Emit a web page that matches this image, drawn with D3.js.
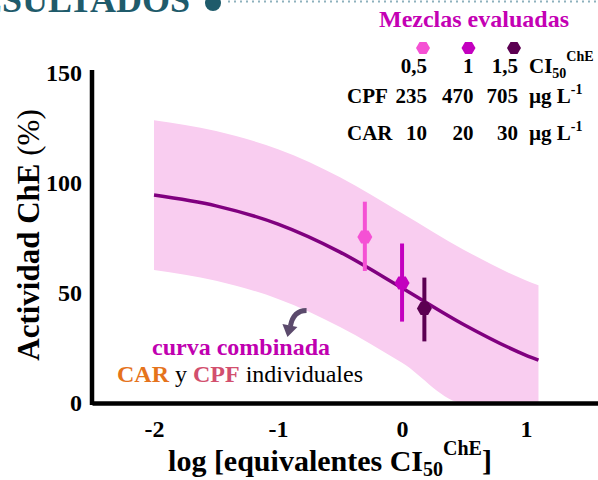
<!DOCTYPE html>
<html>
<head>
<meta charset="utf-8">
<script src="https://d3js.org/d3.v7.min.js"></script>
<style>
  body { margin: 0; background: #fff; }
  text { font-family: "Liberation Serif", "Times New Roman", serif; }
</style>
</head>
<body>
<div id="chart"></div>
<script>
// fitted curve
var curveX = [-2, -1.5, -1, -0.5, 0, 0.5, 1, 1.1];
var curveY = [94.5, 89.6, 81.3, 68.6, 52.3, 35.6, 21.7, 19.5];
var bandUpper = [128.5, 123.6, 115.3, 102.6, 86.3, 69.6, 55.7, 53.5];
var bandLower = [60.5, 55.6, 47.3, 34.6, 18.3, 0, 0, 0];

// evaluated mixtures
var mixLabels = ["0,5", "1", "1,5"];
var cpfDose = [235, 470, 705];
var carDose = [10, 20, 30];
var mixLogEq = [-0.30, 0, 0.18];
var mixMean = [75.5, 54.5, 43];
var mixLow = [60, 37, 28];
var mixHigh = [91.5, 72.5, 57];
var mixColors = ["#f551d4", "#c300bf", "#5c0052"];

var xTicks = [-2, -1, 0, 1];
var yTicks = [0, 50, 100, 150];

var width = 598, height = 480;

var svg = d3.select("#chart").append("svg")
  .attr("width", width)
  .attr("height", height);

var x = d3.scaleLinear().domain([-2.5, 1.58]).range([92, 598]);
var y = d3.scaleLinear().domain([0, 150]).range([403, 73]);

// header remains
svg.append("text")
  .attr("x", 190).attr("y", 12)
  .attr("text-anchor", "end")
  .attr("font-size", 36).attr("font-weight", "bold")
  .attr("fill", "#1f5b6b")
  .text("RESULTADOS");
svg.append("circle").attr("cx", 213).attr("cy", 3).attr("r", 8).attr("fill", "#1f5b6b");
svg.append("line")
  .attr("x1", 228).attr("x2", 598).attr("y1", 1.5).attr("y2", 1.5)
  .attr("stroke", "#8eb1bd").attr("stroke-width", 2)
  .attr("stroke-dasharray", "2,4");

var pts = curveX.map(function (d, i) {
  return { x: d, y: curveY[i], hi: bandUpper[i], lo: bandLower[i] };
});

// confidence band
var area = d3.area()
  .x(function (d) { return x(d.x); })
  .y0(function (d) { return y(d.lo); })
  .y1(function (d) { return y(d.hi); })
  .curve(d3.curveMonotoneX);

svg.append("path")
  .datum(pts)
  .attr("d", area)
  .attr("fill", "#f9cdf0");

var line = d3.line()
  .x(function (d) { return x(d.x); })
  .y(function (d) { return y(d.y); })
  .curve(d3.curveMonotoneX);

svg.append("path")
  .datum(pts)
  .attr("d", line)
  .attr("fill", "none")
  .attr("stroke", "#80007f")
  .attr("stroke-width", 3.5);

// axes
var fmt = function (d) { return String(d); };
var yAxis = svg.append("g")
  .attr("transform", "translate(" + x(-2.5) + ",0)")
  .call(d3.axisLeft(y).tickValues(yTicks).tickFormat(fmt).tickSize(0).tickPadding(10).tickSizeOuter(0));
var xAxis = svg.append("g")
  .attr("transform", "translate(0," + y(0) + ")")
  .call(d3.axisBottom(x).tickValues(xTicks).tickFormat(fmt).tickSize(0).tickPadding(17).tickSizeOuter(0));

[xAxis, yAxis].forEach(function (g) {
  g.select(".domain").attr("stroke", "#000").attr("stroke-width", 4.5);
  g.selectAll("text")
    .attr("font-size", 24)
    .attr("font-weight", "bold")
    .attr("fill", "#000");
});
yAxis.select(".domain").attr("d", "M0," + (y(0) + 2) + "V" + (y(150) - 3));
yAxis.selectAll("text").attr("dy", "0.33em");

// hexagon marker
function hexagon(r) {
  var p = d3.path();
  for (var k = 0; k < 6; k++) {
    var a = Math.PI / 3 * k;
    var px = r * Math.cos(a), py = r * Math.sin(a);
    if (k === 0) p.moveTo(px, py); else p.lineTo(px, py);
  }
  p.closePath();
  return p.toString();
}

var mix = mixLogEq.map(function (d, i) {
  return { x: d, m: mixMean[i], lo: mixLow[i], hi: mixHigh[i], c: mixColors[i] };
});

var mg = svg.append("g").selectAll("g").data(mix).enter().append("g");
mg.append("line")
  .attr("x1", function (d) { return x(d.x); })
  .attr("x2", function (d) { return x(d.x); })
  .attr("y1", function (d) { return y(d.lo); })
  .attr("y2", function (d) { return y(d.hi); })
  .attr("stroke", function (d) { return d.c; })
  .attr("stroke-width", 4);
mg.append("path")
  .attr("d", hexagon(7.5))
  .attr("transform", function (d) { return "translate(" + x(d.x) + "," + y(d.m) + ")"; })
  .attr("fill", function (d) { return d.c; });

// legend
var lg = svg.append("g").attr("font-weight", "bold").attr("font-size", 21).attr("fill", "#000");
lg.append("text")
  .attr("x", 474).attr("y", 27)
  .attr("text-anchor", "middle")
  .attr("font-size", 24)
  .attr("fill", "#c400b4")
  .text("Mezclas evaluadas");

var colX = d3.scalePoint().domain(mixLabels).range([423, 514]);

lg.selectAll(".lhex").data(mixLabels).enter().append("path")
  .attr("d", hexagon(7))
  .attr("transform", function (d) { return "translate(" + colX(d) + ",48)"; })
  .attr("fill", function (d, i) { return mixColors[i]; });

function legendRow(vals, yy, head) {
  lg.selectAll(null).data(vals).enter().append("text")
    .attr("x", function (d, i) { return colX(mixLabels[i]) + (i === 1 ? 5 : 4); })
    .attr("y", yy)
    .attr("text-anchor", "end")
    .text(function (d) { return d; });
  if (head) {
    lg.append("text").attr("x", 347).attr("y", yy).text(head);
  }
}
legendRow(mixLabels, 73, null);
legendRow(cpfDose, 103, "CPF");
legendRow(carDose, 140, "CAR");

var ci = lg.append("text").attr("x", 529).attr("y", 73);
ci.append("tspan").text("CI");
ci.append("tspan").attr("font-size", 14).attr("dy", 5).text("50");
ci.append("tspan").attr("font-size", 14).attr("dy", -17).text("ChE");

[103, 140].forEach(function (yy) {
  var u = lg.append("text").attr("x", 529).attr("y", yy);
  u.append("tspan").text("µg L");
  u.append("tspan").attr("font-size", 14).attr("dy", -9).text("-1");
});

// annotation
svg.append("text")
  .attr("x", 152).attr("y", 355)
  .attr("font-size", 24).attr("font-weight", "bold")
  .attr("fill", "#c000b0")
  .text("curva combinada");
var ind = svg.append("text").attr("x", 117).attr("y", 382).attr("font-size", 24);
ind.append("tspan").attr("font-weight", "bold").attr("fill", "#e5731c").text("CAR");
ind.append("tspan").attr("fill", "#000").text(" y ");
ind.append("tspan").attr("font-weight", "bold").attr("fill", "#d24f6e").text("CPF");
ind.append("tspan").attr("fill", "#000").text(" individuales");

// curved arrow pointing to the band
var a0 = [x(-0.77), y(42)], a1 = [x(-0.9), y(35)];
svg.append("path")
  .attr("d", "M" + a0[0] + "," + a0[1] + "Q" + (a1[0] + 3) + "," + a0[1] + " " + a1[0] + "," + a1[1])
  .attr("fill", "none")
  .attr("stroke", "#5b4a6c")
  .attr("stroke-width", 5);
svg.append("path")
  .attr("d", "M" + (a1[0] - 8) + "," + (a1[1] - 2) + "L" + (a1[0] + 7) + "," + (a1[1] + 1) +
    "L" + (a1[0] - 3) + "," + (a1[1] + 11) + "Z")
  .attr("fill", "#5b4a6c");

// axis titles
var xt = svg.append("text")
  .attr("x", 330).attr("y", 471)
  .attr("text-anchor", "middle")
  .attr("font-size", 30).attr("font-weight", "bold");
xt.append("tspan").text("log [equivalentes CI");
xt.append("tspan").attr("font-size", 20).attr("dy", 5).text("50");
xt.append("tspan").attr("font-size", 20).attr("dy", -21).text("ChE");
xt.append("tspan").attr("dy", 16).text("]");

var yt = svg.append("text")
  .attr("transform", "translate(39,235) rotate(-90)")
  .attr("text-anchor", "middle")
  .attr("font-size", 31);
yt.append("tspan").attr("font-weight", "bold").text("Actividad ChE ");
yt.append("tspan").text("(%)");
</script>
</body>
</html>
